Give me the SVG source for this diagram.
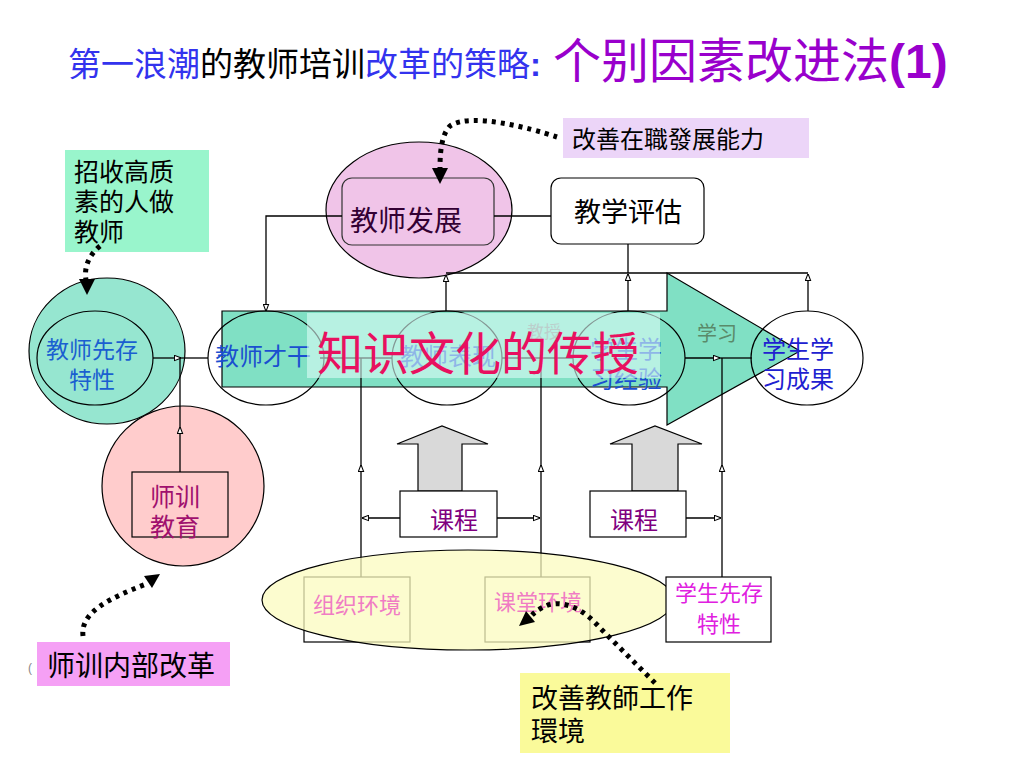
<svg xmlns="http://www.w3.org/2000/svg" width="1024" height="768" viewBox="0 0 1024 768">
<defs>
<style>
text{font-family:'Liberation Sans','Noto Sans CJK SC',sans-serif}
.ln{stroke:#000;stroke-width:1.3;fill:none}
.ar{stroke:#000;stroke-width:1.3;fill:none;marker-end:url(#a)}
.dot{stroke:#000;stroke-width:5;fill:none;stroke-dasharray:4 5}
.ol{fill:none;stroke:#000;stroke-width:1.2}
.bx{stroke:#000;stroke-width:1.2}
</style>
<marker id="a" viewBox="0 0 8 8" markerWidth="7" markerHeight="7" refX="7.5" refY="4" orient="auto" markerUnits="userSpaceOnUse">
<path d="M0,1 L8,4 L0,7 z" fill="#fff" stroke="#000" stroke-width="1.2"/>
</marker>
</defs>
<rect width="1024" height="768" fill="#fff"/>

<g id="title">
<text x="68" y="76" font-size="33"><tspan fill="#3333ee">第一浪潮</tspan><tspan fill="#000">的教师培训</tspan><tspan fill="#3333ee">改革的策略</tspan><tspan fill="#3333ee" font-weight="bold">:</tspan></text>
<text x="553" y="78" font-size="48" fill="#9900cc">个别因素改进法<tspan font-weight="bold">(1)</tspan></text>
</g>

<!-- left nodes -->
<g id="n-prior">
<ellipse cx="107" cy="351" rx="78" ry="73" fill="#96e6d0" stroke="#000" stroke-width="1.2"/>
<ellipse cx="95" cy="358" rx="58" ry="47" fill="#96e6d0" stroke="#000" stroke-width="1.2"/>
<text x="92" y="358" font-size="23" fill="#1a5fd0" text-anchor="middle">教师先存</text>
<text x="92" y="388" font-size="23" fill="#1a5fd0" text-anchor="middle">特性</text>
</g>
<g id="n-training">
<ellipse cx="183" cy="486" rx="81" ry="80" fill="#ffcccc" stroke="#000" stroke-width="1.2"/>
<rect x="132" y="472" width="96" height="65" fill="#ffcccc" class="bx"/>
<text x="150" y="506" font-size="25" fill="#a0106e">师训</text>
<text x="150" y="536" font-size="25" fill="#a0106e">教育</text>
</g>

<g id="n-devel">
<ellipse cx="419" cy="210" rx="93" ry="68" fill="#f0c4e8" stroke="#000" stroke-width="1.2"/>
<rect x="342" y="178" width="152" height="67" rx="10" fill="#f0c4e8" stroke="#333" stroke-width="1.2"/>
<text x="350" y="231" font-size="28" fill="#330033">教师发展</text>
</g>
<g id="n-eval">
<rect x="551" y="178" width="153" height="66" rx="10" fill="#fff" stroke="#000" stroke-width="1.2"/>
<text x="628" y="222" font-size="27" fill="#000" text-anchor="middle">教学评估</text>
</g>

<!-- big arrow -->
<g id="n-bigarrow">
<path d="M222,311 L667,311 L667,273 L800,351 L667,425 L667,387 L222,387 Z" fill="#80e0c4" stroke="#000" stroke-width="1.2"/>
<text x="697" y="341" font-size="20" fill="#5a8a6a">学习</text>
</g>

<g id="connectors">
<path class="ar" d="M153,358 L181,358"/>
<path class="ln" d="M181,358 L208,358"/>
<path class="ar" d="M180,472 L180,427"/>
<path class="ln" d="M180,427 L180,358"/>
<path class="ar" d="M342,216 L266,216 L266,311"/>
<path class="ln" d="M494,216 L551,216"/>
<path class="ln" d="M446,273 L808,273"/>
<path class="ar" d="M446,311 L446,275"/>
<path class="ln" d="M628,244 L628,273"/>
<path class="ar" d="M628,311 L628,274"/>
<path class="ar" d="M808,311 L808,274"/>
<path class="ln" d="M320,358 L392,358"/>
<path class="ln" d="M502,358 L573,358"/>
<path class="ar" d="M685,358 L720,358"/>
<path class="ln" d="M720,358 L752,358"/>
<path class="ar" d="M361,577 L361,465"/>
<path class="ln" d="M361,465 L361,358"/>
<path class="ar" d="M541,577 L541,465"/>
<path class="ln" d="M541,465 L541,358"/>
<path class="ar" d="M722,577 L722,465"/>
<path class="ln" d="M722,465 L722,358"/>
<path class="ar" d="M400,518 L362,518"/>
<path class="ar" d="M497,518 L540,518"/>
<path class="ar" d="M686,518 L721,518"/>
</g>

<g id="n-talent">
<ellipse cx="266" cy="358" rx="58" ry="47" class="ol"/>
<text x="215" y="365" font-size="24" fill="#1a4fd0">教师才干</text>
</g>
<g id="n-perform">
<ellipse cx="447" cy="358" rx="55" ry="47" class="ol"/>
<text x="400" y="365" font-size="24" fill="#1a4fd0">教师表现</text>
<text x="527" y="338" font-size="17" fill="#8a8a8a">教授</text>
</g>
<g id="n-experience">
<ellipse cx="629" cy="358" rx="56" ry="47" class="ol"/>
<text x="590" y="358" font-size="24" fill="#1a4fd0">学生学</text>
<text x="590" y="388" font-size="24" fill="#1a4fd0">习经验</text>
</g>
<g id="n-outcome">
<ellipse cx="807" cy="358" rx="56" ry="47" class="ol"/>
<text x="762" y="358" font-size="24" fill="#2020d0">学生学</text>
<text x="762" y="388" font-size="24" fill="#2020d0">习成果</text>
</g>

<g id="n-overlay">
<rect x="307" y="313" width="353" height="65" fill="#dcfcf6" opacity="0.6"/>
<text x="317" y="370" font-size="46" fill="#e8105f">知识文化的传授</text>
</g>

<g id="n-curr1">
<path d="M418,491 L418,444 L397,444 L442,426 L488,444 L462,444 L462,491 Z" fill="#d9d9d9" stroke="#000" stroke-width="1.2"/>
<rect x="400" y="491" width="97" height="46" fill="#fff" class="bx"/>
<text x="430" y="529" font-size="24" fill="#800080">课程</text>
</g>
<g id="n-curr2">
<path d="M632,491 L632,444 L610,444 L655,426 L702,444 L678,444 L678,491 Z" fill="#d9d9d9" stroke="#000" stroke-width="1.2"/>
<rect x="590" y="491" width="96" height="46" fill="#fff" class="bx"/>
<text x="610" y="529" font-size="24" fill="#800080">课程</text>
</g>

<g id="n-env">
<rect x="304" y="577" width="106" height="65" fill="#fff" class="bx"/>
<rect x="485" y="577" width="105" height="65" fill="#fff" class="bx"/>
<ellipse cx="468" cy="600" rx="206" ry="50" fill="#fbfbbf" fill-opacity="0.75" stroke="#000" stroke-width="1.2"/>
<text x="357" y="613" font-size="22" fill="#f07cc4" text-anchor="middle">组织环境</text>
<text x="538" y="610" font-size="22" fill="#f07cc4" text-anchor="middle">课堂环境</text>
</g>
<g id="n-studprior">
<rect x="666" y="577" width="105" height="65" fill="#fff" class="bx"/>
<text x="719" y="601" font-size="22" fill="#e020e0" text-anchor="middle">学生先存</text>
<text x="719" y="632" font-size="22" fill="#e020e0" text-anchor="middle">特性</text>
</g>

<!-- callouts -->
<g id="c-recruit">
<rect x="65" y="150" width="144" height="102" fill="#99f5cc"/>
<text x="74" y="181" font-size="25" fill="#000">招收高质</text>
<text x="74" y="211" font-size="25" fill="#000">素的人做</text>
<text x="74" y="241" font-size="25" fill="#000">教师</text>
</g>
<g id="c-inservice">
<rect x="563" y="118" width="246" height="40" fill="#ecd5f8"/>
<text x="572" y="148" font-size="24" fill="#000">改善在職發展能力</text>
</g>
<g id="c-internal">
<text x="28" y="672" font-size="12" fill="#888">(</text>
<rect x="37" y="642" width="193" height="44" fill="#f5a0f5"/>
<text x="47" y="676" font-size="28" fill="#000">师训内部改革</text>
</g>
<g id="c-workenv">
<rect x="520" y="673" width="210" height="80" fill="#fafa9a"/>
<text x="531" y="708" font-size="27" fill="#000">改善教師工作</text>
<text x="531" y="741" font-size="27" fill="#000">環境</text>
</g>

<g id="callout-arrows">
<path class="dot" d="M557,137 C530,128 470,112 450,126 C442,134 440,150 440,168"/>
<polygon points="432,168 448,168 440,184" fill="#000"/>
<path class="dot" d="M100,246 C88,256 84,268 86,280"/>
<polygon points="79,279 95,279 87,295" fill="#000"/>
<path class="dot" d="M83,636 C80,612 110,598 146,584"/>
<polygon points="152,588 144,576 160,574" fill="#000"/>
<path class="dot" d="M655,683 L600,628 C585,610 565,600 548,605 C540,608 535,612 532,615"/>
<polygon points="535,622 526,611 519,626" fill="#000"/>
</g>
</svg>
